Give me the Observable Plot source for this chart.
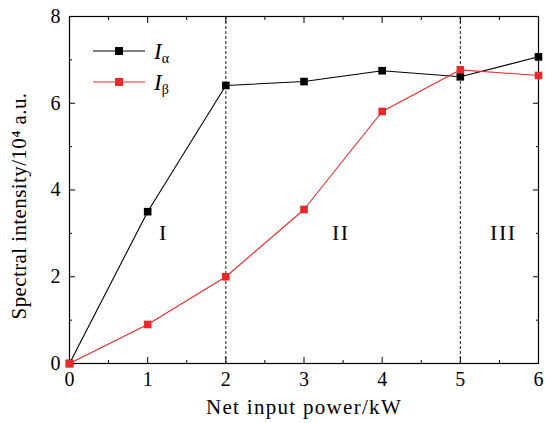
<!DOCTYPE html>
<html>
<head>
<meta charset="utf-8">
<script src="https://cdn.jsdelivr.net/npm/d3@7"></script>
<script src="https://cdn.jsdelivr.net/npm/@observablehq/plot@0.6"></script>
<style>
  body { margin: 0; background: #fff; }
  #wrap { position: relative; width: 545px; height: 423px; }
  #legend { position: absolute; left: 0; top: 0; }
  #wrap g[aria-label="x-axis label"] text { letter-spacing: 1.3px; }
  #wrap g[aria-label="y-axis label"] text { letter-spacing: 0.4px; }
  #wrap g[aria-label="text"] text { letter-spacing: 1.5px; }
</style>
</head>
<body>
<div id="wrap"></div>
<script>
const powers = [0, 1, 2, 3, 4, 5, 6];
const alphaValues = [0, 3.5, 6.41, 6.5, 6.75, 6.61, 7.07];
const betaValues = [0, 0.9, 2.0, 3.55, 5.81, 6.77, 6.64];
const boundaries = [2, 5];
const regionNames = ["I", "II", "III"];
const regionX = [1.2, 3.47, 5.55];
const regionY = [3.0, 3.0, 3.0];
const xMajor = [0, 1, 2, 3, 4, 5, 6];
const xMinor = [0.5, 1.5, 2.5, 3.5, 4.5, 5.5];
const yMajor = [0, 2, 4, 6, 8];
const yMinor = [1, 3, 5, 7];

const rows = powers.map((p, i) => ({p, a: alphaValues[i], b: betaValues[i]}));
const regions = regionNames.map((n, i) => ({n, x: regionX[i], y: regionY[i]}));

const RED = "#e8282b";
const FONT = "Liberation Serif, serif";

const chart = Plot.plot({
  width: 545,
  height: 423,
  marginLeft: 69,
  marginRight: 7,
  marginTop: 16,
  marginBottom: 60,
  style: {fontFamily: FONT, fontSize: "20px", color: "black", background: "white"},
  x: {domain: [0, 6]},
  y: {domain: [0, 8]},
  marks: [
    Plot.ruleX(boundaries, {stroke: "black", strokeWidth: 0.9, strokeDasharray: "3,2"}),
    // ticks (inward)
    Plot.axisX(xMajor, {anchor: "bottom", tickSize: -6, tickFormat: () => "", label: null}),
    Plot.axisX(xMinor, {anchor: "bottom", tickSize: -3, tickFormat: () => "", label: null}),
    Plot.axisX(xMajor, {anchor: "top", tickSize: -6, tickFormat: () => "", label: null}),
    Plot.axisX(xMinor, {anchor: "top", tickSize: -3, tickFormat: () => "", label: null}),
    Plot.axisY(yMajor, {anchor: "left", tickSize: -6, tickFormat: () => "", label: null}),
    Plot.axisY(yMinor, {anchor: "left", tickSize: -3, tickFormat: () => "", label: null}),
    Plot.axisY(yMajor, {anchor: "right", tickSize: -6, tickFormat: () => "", label: null}),
    Plot.axisY(yMinor, {anchor: "right", tickSize: -3, tickFormat: () => "", label: null}),
    // labels
    Plot.axisX(xMajor, {anchor: "bottom", tickSize: 0, tickPadding: 8, fontSize: 20,
      label: "Net input power/kW", labelAnchor: "center", labelArrow: "none", labelOffset: 50}),
    Plot.axisY(yMajor, {anchor: "left", tickSize: 0, tickPadding: 9, fontSize: 20,
      label: "Spectral intensity/10\u2074 a.u.", labelAnchor: "center", labelArrow: "none", labelOffset: 58}),
    Plot.frame({stroke: "black", strokeWidth: 1.2}),
    Plot.line(rows, {x: "p", y: "a", stroke: "black", strokeWidth: 1.1}),
    Plot.line(rows, {x: "p", y: "b", stroke: RED, strokeWidth: 1.1}),
    Plot.dot(rows, {x: "p", y: "a", symbol: "square", r: 4.3, fill: "black", stroke: "none"}),
    Plot.dot(rows, {x: "p", y: "b", symbol: "square", r: 4.3, fill: RED, stroke: "none"}),
    Plot.text(regions, {x: "x", y: "y", text: "n", fontSize: 22, fontFamily: FONT})
  ]
});

const wrap = document.getElementById("wrap");
wrap.appendChild(chart);
chart.querySelectorAll('g[aria-label="x-axis label"] text, g[aria-label="y-axis label"] text')
  .forEach(t => t.setAttribute("font-size", 21));
const yLab = chart.querySelector('g[aria-label="y-axis label"]');
if (yLab) {
  const prev = yLab.getAttribute("transform") || "";
  yLab.setAttribute("transform", "translate(0,16) " + prev);
}

// legend overlay
const ns = "http://www.w3.org/2000/svg";
const leg = document.createElementNS(ns, "svg");
leg.setAttribute("id", "legend");
leg.setAttribute("width", 545);
leg.setAttribute("height", 423);
const entries = [
  {color: "black", sub: "\u03b1", cy: 51},
  {color: RED, sub: "\u03b2", cy: 82}
];
for (const e of entries) {
  const line = document.createElementNS(ns, "line");
  line.setAttribute("x1", 93); line.setAttribute("x2", 145);
  line.setAttribute("y1", e.cy); line.setAttribute("y2", e.cy);
  line.setAttribute("stroke", e.color); line.setAttribute("stroke-width", 1.1);
  leg.appendChild(line);
  const sq = document.createElementNS(ns, "rect");
  sq.setAttribute("x", 115); sq.setAttribute("y", e.cy - 4);
  sq.setAttribute("width", 8); sq.setAttribute("height", 8);
  sq.setAttribute("fill", e.color);
  leg.appendChild(sq);
  const t = document.createElementNS(ns, "text");
  t.setAttribute("x", 154); t.setAttribute("y", e.cy + 8);
  t.setAttribute("font-family", FONT);
  t.setAttribute("font-size", 23);
  const ti = document.createElementNS(ns, "tspan");
  ti.setAttribute("font-style", "italic");
  ti.textContent = "I";
  const ts = document.createElementNS(ns, "tspan");
  ts.setAttribute("font-size", 14);
  ts.setAttribute("dy", 4);
  ts.textContent = e.sub;
  t.appendChild(ti); t.appendChild(ts);
  leg.appendChild(t);
}
wrap.appendChild(leg);
</script>
</body>
</html>
